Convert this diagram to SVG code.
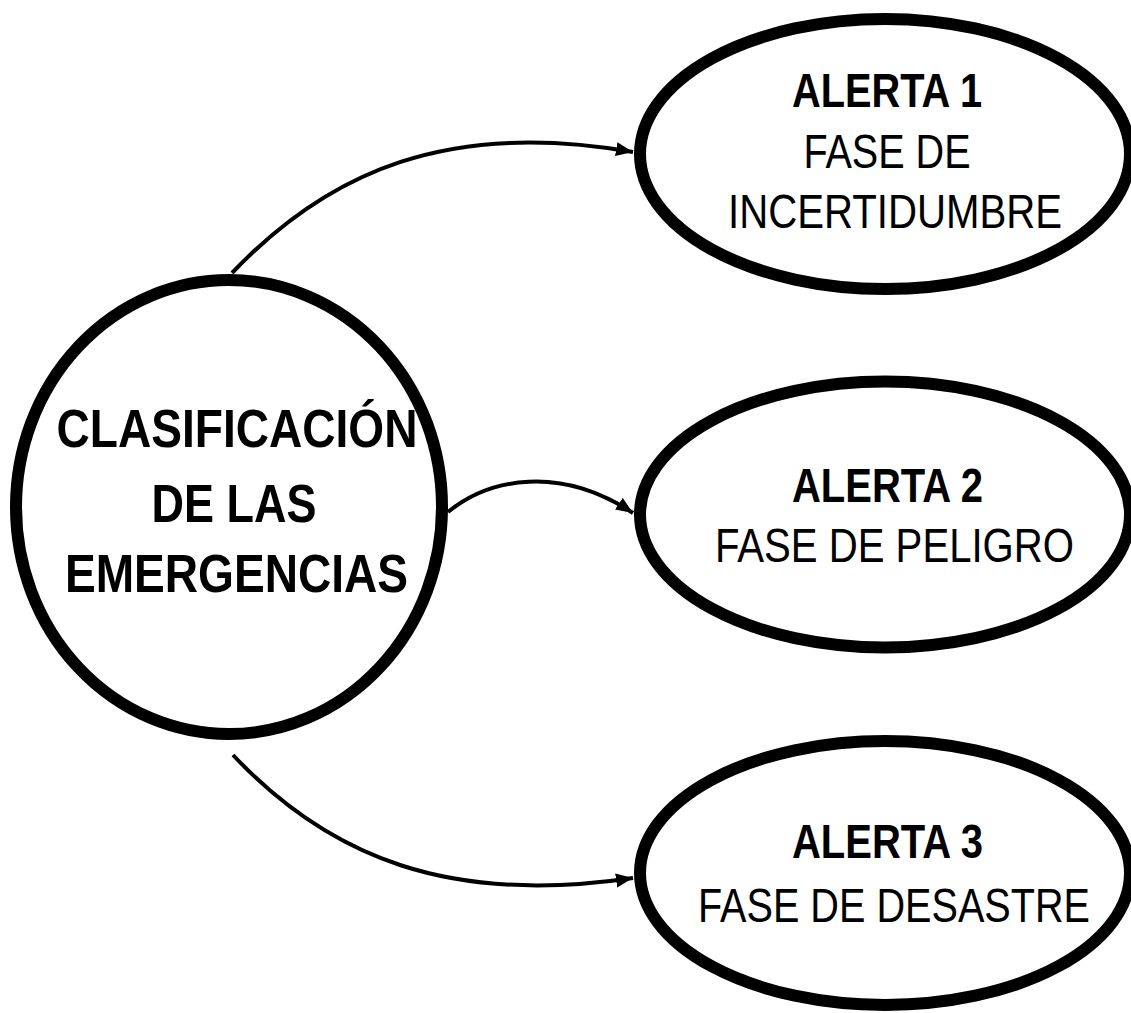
<svg xmlns="http://www.w3.org/2000/svg" width="1131" height="1013" viewBox="0 0 1131 1013">
<style>
.node{fill:#fff;stroke:#000;stroke-width:12}
.conn{fill:none;stroke:#000;stroke-width:4}
text{font-family:"Liberation Sans",Arial,sans-serif;fill:#000;text-anchor:middle}
.big{font-size:54px;font-weight:bold}
.b{font-size:48px;font-weight:bold}
.r{font-size:48px}
</style>
<defs>
<marker id="arr" markerUnits="userSpaceOnUse" markerWidth="20" markerHeight="16" refX="17" refY="7" orient="auto">
<path d="M0,0 L17,7 L0,14 Z" fill="#000"/>
</marker>
</defs>
<rect width="1131" height="1013" fill="#fff"/>
<g id="connectors">
<path class="conn" d="M232,273 C330,170 450,120 633,152" marker-end="url(#arr)"/>
<path class="conn" d="M448,512 C490,478 560,465 633,513" marker-end="url(#arr)"/>
<path class="conn" d="M233,755 C330,858 450,905 633,878" marker-end="url(#arr)"/>
</g>
<g id="clasificacion">
<ellipse class="node" cx="229" cy="507" rx="213" ry="227"/>
<text class="big" x="237" y="447" textLength="361" lengthAdjust="spacingAndGlyphs">CLASIFICACIÓN</text>
<text class="big" x="234" y="522" textLength="165" lengthAdjust="spacingAndGlyphs">DE LAS</text>
<text class="big" x="236.5" y="592" textLength="343" lengthAdjust="spacingAndGlyphs">EMERGENCIAS</text>
</g>
<g id="alerta1">
<ellipse class="node" cx="885" cy="154" rx="245" ry="135"/>
<text class="b" x="887" y="107" textLength="190" lengthAdjust="spacingAndGlyphs">ALERTA 1</text>
<text class="r" x="887" y="168" textLength="167" lengthAdjust="spacingAndGlyphs">FASE DE</text>
<text class="r" x="895" y="228" textLength="334" lengthAdjust="spacingAndGlyphs">INCERTIDUMBRE</text>
</g>
<g id="alerta2">
<ellipse class="node" cx="885" cy="514.5" rx="245" ry="133"/>
<text class="b" x="887.5" y="502" textLength="191" lengthAdjust="spacingAndGlyphs">ALERTA 2</text>
<text class="r" x="894.5" y="562" textLength="359" lengthAdjust="spacingAndGlyphs">FASE DE PELIGRO</text>
</g>
<g id="alerta3">
<ellipse class="node" cx="885" cy="873" rx="245" ry="132"/>
<text class="b" x="887.5" y="858" textLength="191" lengthAdjust="spacingAndGlyphs">ALERTA 3</text>
<text class="r" x="894" y="922" textLength="392" lengthAdjust="spacingAndGlyphs">FASE DE DESASTRE</text>
</g>
</svg>
